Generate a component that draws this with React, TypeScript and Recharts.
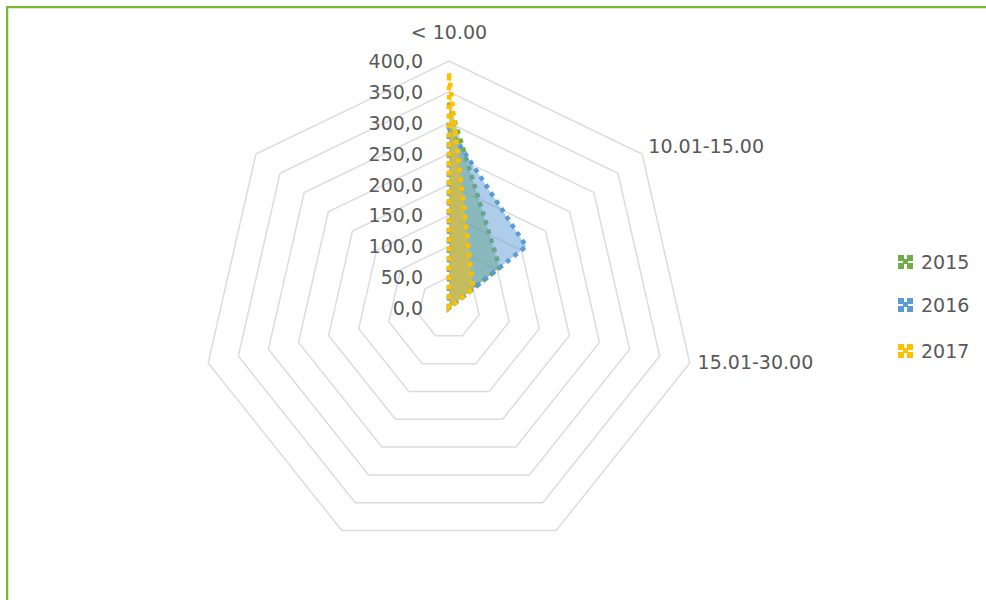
import React from 'react';
import {
  RadarChart,
  Radar,
  PolarGrid,
  PolarAngleAxis,
  PolarRadiusAxis,
  Legend,
} from 'recharts';

// Price bands around the radar; the last four spokes have no label
// (padded with distinct blanks so the category axis keeps all seven)
const categories = ['< 10.00', '10.01-15.00', '15.01-30.00', ' ', '  ', '   ', '    '];
const values2015 = [333, 105, 0, 0, 0, 0, 0];
const values2016 = [290, 160, 0, 0, 0, 0, 0];
const values2017 = [380, 50, 0, 0, 0, 0, 0];
const years = ['2015', '2016', '2017'];
const radiusTicks = [0, 50, 100, 150, 200, 250, 300, 350, 400];

const COLORS = ['#70AD47', '#5B9BD5', '#FFC000'];
const FONT = '"DejaVu Sans", sans-serif';
const TEXT = '#595959';

const chartData = categories.map((name, i) => ({
  name,
  '2015': values2015[i],
  '2016': values2016[i],
  '2017': values2017[i],
}));

const CX = 449;
const CY = 308;
const R = 247;

function AngleTick(props: any) {
  const { x, y, payload } = props;
  const label = String(payload.value).trim();
  if (!label) return null;
  const dx = x - CX;
  const top = Math.abs(dx) < 5;
  return (
    <text
      x={x}
      y={top ? y - 21 : y - 3}
      textAnchor={top ? 'middle' : dx > 0 ? 'start' : 'end'}
      dominantBaseline="central"
      fontFamily={FONT}
      fontSize={19}
      fill={TEXT}
    >
      {label}
    </text>
  );
}

function RadiusTick(props: any) {
  const { x, y, payload } = props;
  return (
    <text
      x={x - 26}
      y={y}
      textAnchor="end"
      dominantBaseline="central"
      fontFamily={FONT}
      fontSize={19}
      fill={TEXT}
    >
      {Number(payload.value).toFixed(1).replace('.', ',')}
    </text>
  );
}

function Marker({ color }: { color: string }) {
  return (
    <svg width={18} height={18} style={{ marginRight: 6 }}>
      <rect x={1} y={2} width={6} height={6} fill={color} />
      <rect x={10} y={2} width={6} height={6} fill={color} />
      <rect x={1} y={10} width={6} height={6} fill={color} />
      <rect x={10} y={10} width={6} height={6} fill={color} />
      <rect x={6} y={6} width={5} height={5} fill={color} />
    </svg>
  );
}

function YearLegend() {
  return (
    <div style={{ fontFamily: FONT, fontSize: 19, color: TEXT }}>
      {years.map((y, i) => (
        <div
          key={y}
          style={{ display: 'flex', alignItems: 'center', height: 22, marginBottom: i === 0 ? 21 : 24 }}
        >
          <Marker color={COLORS[i]} />
          <span>{y}</span>
        </div>
      ))}
    </div>
  );
}

export default function App() {
  return (
    <div style={{ position: 'fixed', left: 0, top: 0, width: 986, height: 600, background: '#fff', overflow: 'hidden' }}>
      <div
        style={{
          position: 'absolute',
          left: 6,
          top: 6,
          width: 1100,
          height: 700,
          borderLeft: '2px solid #7AB82C',
          borderTop: '2px solid #7AB82C',
          boxShadow: 'inset 1px 1px 0 #e4e4e4',
        }}
      />
      <div style={{ position: 'absolute', left: 0, top: 0 }}>
        <RadarChart width={986} height={600} data={chartData} cx={CX} cy={CY} outerRadius={R}>
          <PolarGrid gridType="polygon" radialLines={false} stroke="#dcdcdc" strokeWidth={1.5} />
          <PolarAngleAxis dataKey="name" tick={<AngleTick />} tickLine={false} axisLine={false} />
          <PolarRadiusAxis
            angle={90}
            domain={[0, 400]}
            ticks={radiusTicks}
            tick={<RadiusTick />}
            axisLine={false}
            tickLine={false}
          />
          {years.map((y, i) => (
            <Radar
              key={y}
              name={y}
              dataKey={y}
              stroke={COLORS[i]}
              strokeWidth={4.5}
              strokeDasharray="4.5 5"
              fill={COLORS[i]}
              fillOpacity={0.5}
              isAnimationActive={false}
            />
          ))}
          <Legend
            layout="vertical"
            content={() => <YearLegend />}
            wrapperStyle={{ position: 'absolute', left: 897, top: 251, width: 90 }}
          />
        </RadarChart>
      </div>
    </div>
  );
}
